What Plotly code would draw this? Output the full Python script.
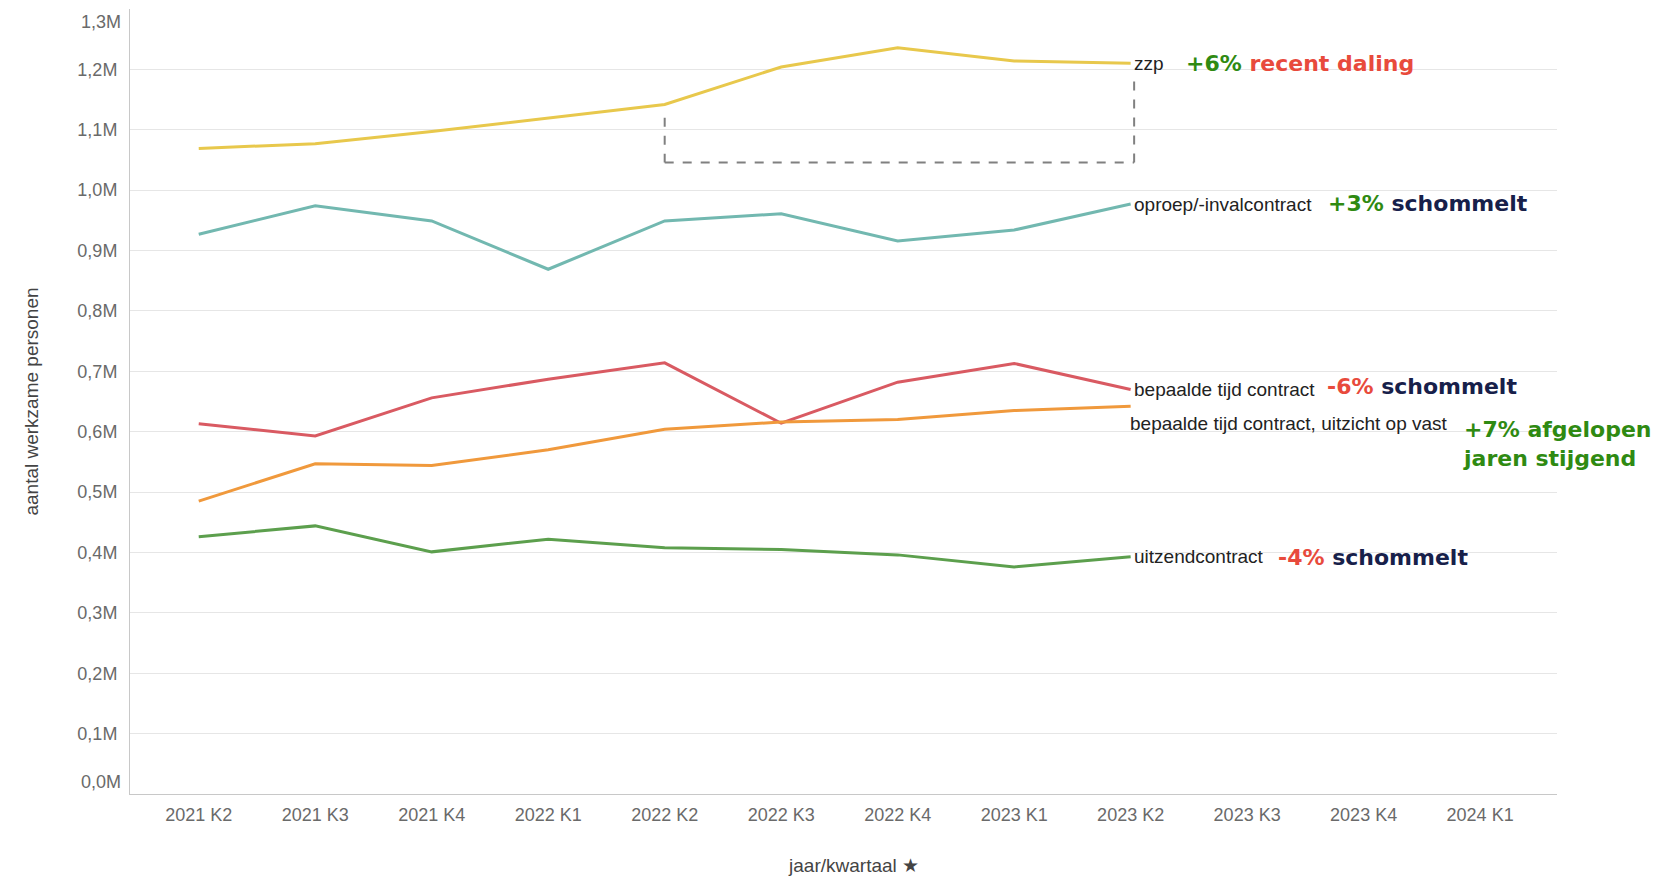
import plotly.graph_objects as go

quarters = ["2021 K2", "2021 K3", "2021 K4", "2022 K1", "2022 K2", "2022 K3",
            "2022 K4", "2023 K1", "2023 K2", "2023 K3", "2023 K4", "2024 K1"]
data_quarters = quarters[:9]

zzp = [1.069, 1.077, 1.097, 1.120, 1.142, 1.204, 1.236, 1.214, 1.210]
oproep = [0.927, 0.974, 0.949, 0.869, 0.949, 0.961, 0.916, 0.934, 0.977]
bepaald = [0.613, 0.593, 0.656, 0.687, 0.714, 0.614, 0.682, 0.713, 0.670]
bepaald_vast = [0.485, 0.547, 0.544, 0.570, 0.604, 0.616, 0.620, 0.635, 0.642]
uitzend = [0.426, 0.444, 0.401, 0.422, 0.408, 0.405, 0.396, 0.376, 0.393]

# dashed bracket (category index, value in millions)
bracket_x = [4, 4, 8.03, 8.03]
bracket_y = [1.12, 1.046, 1.046, 1.185]

series = [
    ("zzp", zzp, "#e8c84c"),
    ("oproep/-invalcontract", oproep, "#72b8b0"),
    ("bepaalde tijd contract", bepaald, "#d95a62"),
    ("bepaalde tijd contract, uitzicht op vast", bepaald_vast, "#f0993c"),
    ("uitzendcontract", uitzend, "#5c9f4d"),
]

y_mid = [i / 10 for i in range(1, 13)]
y_mid_text = [f"{v:.1f}".replace(".", ",") + "M" for v in y_mid]
y_top, y_top_text = [1.3], ["1,3M"]
y_bot, y_bot_text = [0.0], ["0,0M"]

GREEN = "#2f8a12"
RED = "#e84a3c"
NAVY = "#17204a"

fig = go.Figure()
for name, vals, col in series:
    fig.add_trace(go.Scatter(x=data_quarters, y=vals, mode="lines", name=name,
                             line=dict(color=col, width=3), showlegend=False))

for i in range(len(bracket_x) - 1):
    fig.add_shape(type="line", xref="x", yref="y",
                  x0=bracket_x[i], y0=bracket_y[i], x1=bracket_x[i + 1], y1=bracket_y[i + 1],
                  line=dict(color="#808080", width=2, dash="dash"))

# invisible carriers for the edge tick-label axes
for ax in ["y2", "y3"]:
    fig.add_trace(go.Scatter(x=[quarters[0]], y=[None], yaxis=ax, mode="lines",
                             showlegend=False, hoverinfo="skip"))

label_font = dict(family="Liberation Sans, Arial", size=19, color="#222222")
anns = []
for name, vals, col in series:
    if name.endswith("vast"):
        anns.append(dict(x=8, y=0.614, xref="x", yref="y", text=name, showarrow=False,
                         xanchor="left", yanchor="middle", xshift=-3, font=label_font))
        continue
    anns.append(dict(x=8, y=vals[-1], xref="x", yref="y", text=name, showarrow=False,
                     xanchor="left", yanchor="middle", xshift=1, font=label_font))

bold_font = dict(family="DejaVu Sans", size=22)
comments = [
    (8.455, 1.210, f"<b><span style='color:{GREEN}'>+6%</span> <span style='color:{RED}'>recent daling</span></b>"),
    (9.68, 0.978, f"<b><span style='color:{GREEN}'>+3%</span> <span style='color:{NAVY}'>schommelt</span></b>"),
    (9.67, 0.675, f"<b><span style='color:{RED}'>-6%</span> <span style='color:{NAVY}'>schommelt</span></b>"),
    (10.84, 0.580, f"<b><span style='color:{GREEN}'>+7% afgelopen<br>jaren stijgend</span></b>"),
    (9.245, 0.392, f"<b><span style='color:{RED}'>-4%</span> <span style='color:{NAVY}'>schommelt</span></b>"),
]
for x, y, t in comments:
    anns.append(dict(x=x, y=y, xref="x", yref="y", text=t, showarrow=False,
                     xanchor="left", yanchor="middle", align="left", font=bold_font))

tickfont = dict(size=18, color="#6a6a6a", family="Liberation Sans, Arial")

fig.update_layout(
    width=1662, height=869,
    margin=dict(l=122, r=113, t=1, b=83),
    plot_bgcolor="white", paper_bgcolor="white",
    annotations=anns,
    font=dict(family="Liberation Sans, Arial", color="#666666"),
    yaxis2=dict(overlaying="y", side="left", range=[0, 1.3], tickmode="array",
                tickvals=y_top, ticktext=y_top_text, ticklabelposition="outside bottom",
                showgrid=True, gridcolor="#e6e6e6", zeroline=False, showline=False,
                ticks="", tickfont=tickfont, ticklabelstandoff=8, ticklabeloverflow="allow",
                automargin=False),
    yaxis3=dict(overlaying="y", side="left", range=[0, 1.3], tickmode="array",
                tickvals=y_bot, ticktext=y_bot_text, ticklabelposition="outside top",
                showgrid=False, zeroline=False, showline=False,
                ticks="", tickfont=tickfont, ticklabelstandoff=8, ticklabeloverflow="allow",
                automargin=False),
)
fig.update_xaxes(
    type="category", categoryorder="array", categoryarray=quarters,
    tickmode="array", tickvals=quarters, ticktext=quarters,
    range=[-0.59, 11.66], showgrid=False, showline=True, linecolor="#c8c8c8",
    linewidth=1, ticks="", tickfont=tickfont, automargin=False, ticklabelstandoff=4,
    title=dict(text="<span style='color:rgba(0,0,0,0)'>__</span>jaar/kwartaal ★",
               font=dict(size=19, color="#444444"), standoff=44),
    zeroline=False,
)
fig.layout.yaxis.update(
    range=[0, 1.3], tickmode="array", tickvals=y_mid, ticktext=y_mid_text,
    showgrid=True, gridcolor="#e6e6e6", gridwidth=1, showline=True,
    linecolor="#c8c8c8", linewidth=1, ticks="", zeroline=False,
    tickfont=tickfont, ticklabelstandoff=8, automargin=False,
    title=dict(text="aantal werkzame personen", font=dict(size=19, color="#444444"), standoff=33),
)

fig.write_html("out.html")
